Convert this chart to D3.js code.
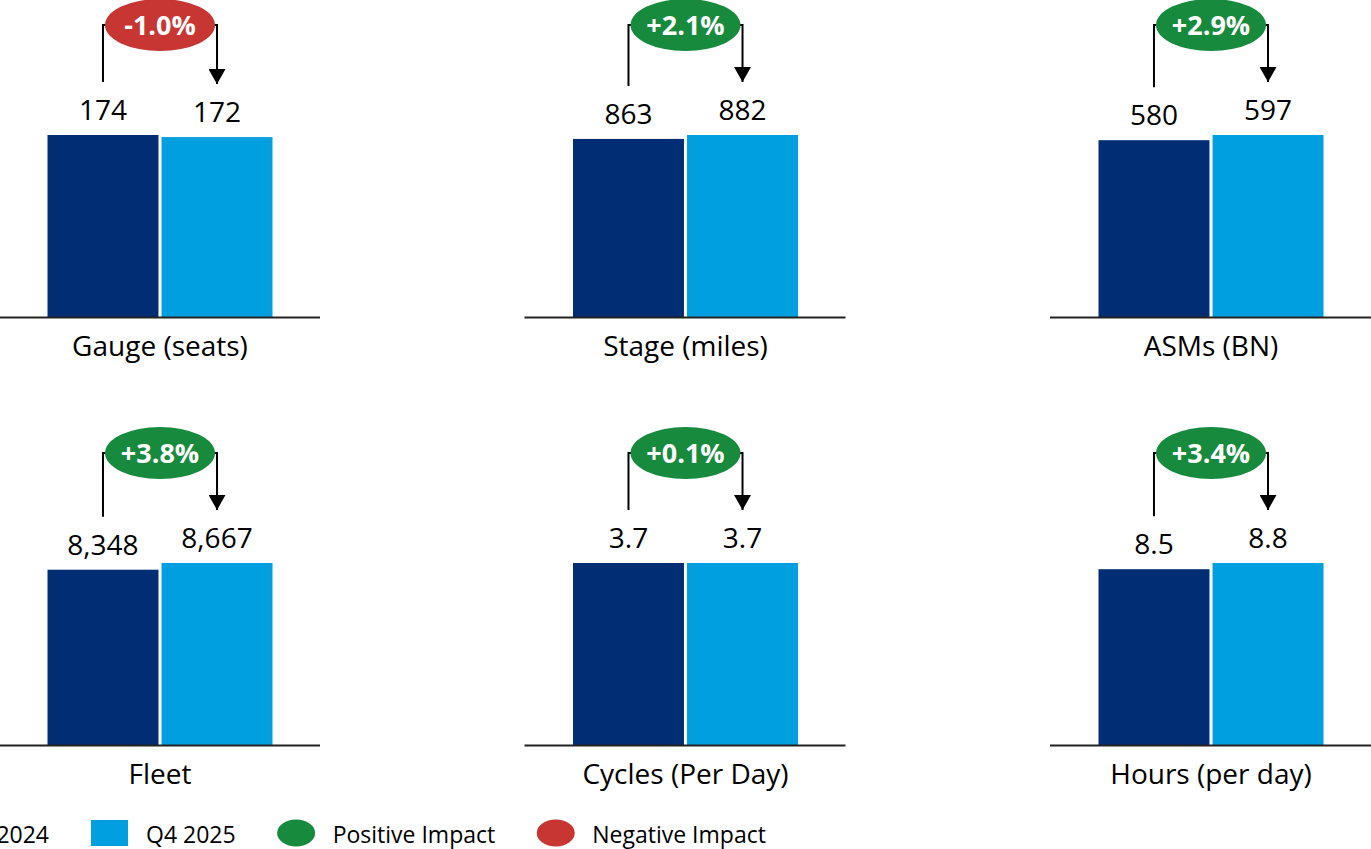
<!DOCTYPE html>
<html>
  <head>
    <title>Operating metrics, Q4 2024 vs Q4 2025</title>
    <meta charset="utf-8">
    <script src="https://d3js.org/d3.v7.min.js"></script>
    <style>
    body {
      margin: 0;
      background: #fff;
    }
    svg text {
      font-family: 'Open Sans', sans-serif;
      fill: #000;
    }
    .badge text {
      fill: #fff;
      font-weight: bold;
    }
    </style>
  </head>
  <body>
    <div id="chart"></div>
    <script>

      // data
      var categories = ["Gauge (seats)", "Stage (miles)", "ASMs (BN)", "Fleet", "Cycles (Per Day)", "Hours (per day)"];
      var q4_2024 = [174, 863, 580, 8348, 3.7, 8.5];
      var q4_2025 = [172, 882, 597, 8667, 3.7, 8.8];
      var valueFormats = [",", ",", ",", ",", ".1f", ".1f"];
      var changeLabels = ["-1.0%", "+2.1%", "+2.9%", "+3.8%", "+0.1%", "+3.4%"];
      var changeImpact = ["Negative", "Positive", "Positive", "Positive", "Positive", "Positive"];
      var series = ["Q4 2024", "Q4 2025"];

      // setup
      var w = 1371;
      var h = 849;
      var barMax = 182;
      var colors = {"Q4 2024": "#012d74", "Q4 2025": "#009fdf"};
      var impactColors = {"Positive": "#178a3e", "Negative": "#c73633"};

      var svg = d3.select("#chart")
          .append("svg")
          .attr("width", w)
          .attr("height", h);

      // panel grid: 3 columns x 2 rows
      var colScale = d3.scalePoint().domain([0, 1, 2]).range([160, 1211]);
      var rowScale = d3.scalePoint().domain([0, 1]).range([317, 745]);

      // arrowhead
      svg.append("defs").append("marker")
          .attr("id", "arrow")
          .attr("viewBox", "0 0 17 15")
          .attr("refX", 8.5)
          .attr("refY", 15)
          .attr("markerWidth", 17)
          .attr("markerHeight", 15)
          .attr("markerUnits", "userSpaceOnUse")
          .attr("orient", "0")
        .append("path")
          .attr("d", "M0,0 L17,0 L8.5,15 Z")
          .attr("fill", "#000");

      categories.forEach(function(cat, i) {
        var cx = colScale(i % 3);
        var base = rowScale(Math.floor(i / 3));
        var vals = [q4_2024[i], q4_2025[i]];
        var fmt = d3.format(valueFormats[i]);

        var x = d3.scaleBand().domain(series)
            .range([cx - 112.5, cx + 112.5])
            .paddingInner(0.027);
        var y = d3.scaleLinear().domain([0, d3.max(vals)])
            .range([base, base - barMax]);

        var g = svg.append("g").attr("class", "panel");

        g.selectAll("rect.bar")
          .data(series)
          .enter().append("rect")
            .attr("class", "bar")
            .attr("x", function(s) { return x(s); })
            .attr("width", x.bandwidth())
            .attr("y", function(s, j) { return y(vals[j]); })
            .attr("height", function(s, j) { return base - y(vals[j]); })
            .attr("fill", function(s) { return colors[s]; });

        // baseline
        g.append("line")
            .attr("x1", cx - 161).attr("x2", cx + 160)
            .attr("y1", base + 0.5).attr("y2", base + 0.5)
            .attr("stroke", "#222")
            .attr("stroke-width", 2);

        // value labels
        g.selectAll("text.value")
          .data(series)
          .enter().append("text")
            .attr("class", "value")
            .attr("x", function(s) { return x(s) + x.bandwidth() / 2; })
            .attr("y", function(s, j) { return y(vals[j]) - 15; })
            .attr("text-anchor", "middle")
            .style("font-size", "28px")
            .text(function(s, j) { return fmt(vals[j]); });

        // category label
        g.append("text")
            .attr("x", cx)
            .attr("y", base + 39)
            .attr("text-anchor", "middle")
            .style("font-size", "28px")
            .text(cat);

        // change bracket + badge
        var x1 = x(series[0]) + x.bandwidth() / 2;
        var x2 = x(series[1]) + x.bandwidth() / 2;
        var cy = base - 292;
        g.append("path")
            .attr("d", "M" + x1 + "," + (y(vals[0]) - 53) +
                       "V" + cy + "H" + x2 + "V" + (y(vals[1]) - 53))
            .attr("fill", "none")
            .attr("stroke", "#000")
            .attr("stroke-width", 2)
            .attr("marker-end", "url(#arrow)");

        var badge = g.append("g").attr("class", "badge");
        badge.append("ellipse")
            .attr("cx", (x1 + x2) / 2)
            .attr("cy", cy)
            .attr("rx", 55)
            .attr("ry", 26)
            .attr("fill", impactColors[changeImpact[i]]);
        badge.append("text")
            .attr("x", (x1 + x2) / 2)
            .attr("y", cy + 10)
            .attr("text-anchor", "middle")
            .style("font-size", "27px")
            .text(changeLabels[i]);
      });

      // legend
      var legendItems = [
        {label: "Q4 2024", shape: "rect", color: colors["Q4 2024"]},
        {label: "Q4 2025", shape: "rect", color: colors["Q4 2025"]},
        {label: "Positive Impact", shape: "circle", color: impactColors["Positive"]},
        {label: "Negative Impact", shape: "circle", color: impactColors["Negative"]}
      ];
      var legend = svg.append("g").attr("class", "legend");
      var items = legend.selectAll("g.item")
        .data(legendItems)
        .enter().append("g")
          .attr("class", "item");
      items.append("text")
          .attr("x", 55)
          .attr("y", 843)
          .style("font-size", "23px")
          .text(function(d) { return d.label; });
      items.each(function(d) {
        var it = d3.select(this);
        if (d.shape == "rect") {
          it.append("rect")
              .attr("x", 0).attr("y", 820)
              .attr("width", 37).attr("height", 26)
              .attr("fill", d.color);
        } else {
          it.append("ellipse")
              .attr("cx", 18.5).attr("cy", 833)
              .attr("rx", 19).attr("ry", 13.5)
              .attr("fill", d.color);
        }
        d.width = 55 + it.select("text").node().getComputedTextLength();
      });
      // second item starts at x=91, others chained with 42px gaps
      var pos = [];
      pos[1] = 91;
      pos[0] = pos[1] - 42 - legendItems[0].width;
      pos[2] = pos[1] + legendItems[1].width + 42;
      pos[3] = pos[2] + legendItems[2].width + 42;
      items.attr("transform", function(d, j) { return "translate(" + pos[j] + ",0)"; });

    </script>
  </body>
</html>
